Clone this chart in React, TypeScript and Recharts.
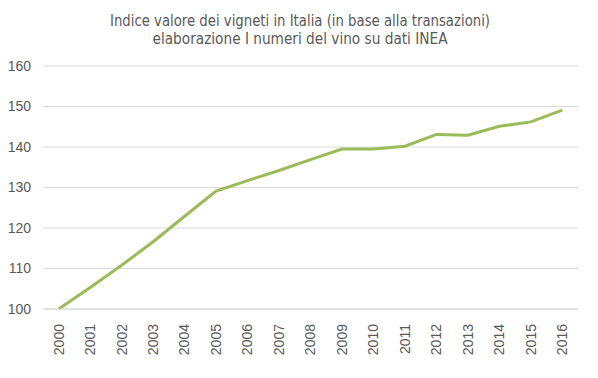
import { LineChart, Line, XAxis, YAxis, CartesianGrid } from "recharts";

const years = [
  "2000", "2001", "2002", "2003", "2004", "2005", "2006", "2007", "2008",
  "2009", "2010", "2011", "2012", "2013", "2014", "2015", "2016",
];
const indexValues = [
  100, 105.3, 110.8, 116.6, 122.9, 129.1, 131.7, 134.2, 136.9, 139.5, 139.5,
  140.2, 143.1, 142.9, 145.1, 146.2, 149.1,
];
const yTicks = [100, 110, 120, 130, 140, 150, 160];
const titleLines = [
  "Indice valore dei vigneti in Italia (in base alla transazioni)",
  "elaborazione I numeri del vino su dati INEA",
];

const data = years.map((year, i) => ({ year, value: indexValues[i] }));

const textColor = "#595959";
const gridColor = "#d9d9d9";
const lineColor = "#9bbb59";
const labelFont = "'Liberation Sans', Arial, sans-serif";
const titleFont = "'Liberation Sans Narrow', 'DejaVu Sans Condensed', sans-serif";

function YearTick(props: any) {
  const { x, y, payload } = props;
  return (
    <text
      x={x}
      y={y}
      transform={`rotate(-90, ${x}, ${y})`}
      textAnchor="end"
      dy="0.35em"
      fill={textColor}
      fontSize={14}
      style={{ fontFamily: labelFont }}
    >
      {payload.value}
    </text>
  );
}

export default function App() {
  return (
    <div
      style={{
        position: "absolute",
        left: 0,
        top: 0,
        width: 598,
        height: 378,
        background: "#fff",
      }}
    >
      <svg
        width={598}
        height={60}
        style={{ position: "absolute", left: 0, top: 0 }}
      >
        <text
          x={300}
          y={26}
          textAnchor="middle"
          fontSize={16}
          fill={textColor}
          style={{ fontFamily: titleFont }}
          textLength={380}
          lengthAdjust="spacingAndGlyphs"
        >
          {titleLines[0]}
        </text>
        <text
          x={300}
          y={44}
          textAnchor="middle"
          fontSize={16}
          fill={textColor}
          style={{ fontFamily: titleFont }}
          textLength={295}
          lengthAdjust="spacingAndGlyphs"
        >
          {titleLines[1]}
        </text>
      </svg>
      <LineChart
        width={598}
        height={378}
        data={data}
        margin={{ top: 66, right: 20, bottom: 0, left: 0 }}
      >
        <CartesianGrid vertical={false} stroke={gridColor} strokeWidth={1} />
        <XAxis
          dataKey="year"
          height={69}
          padding={{ left: 15.7, right: 15.7 }}
          axisLine={{ stroke: gridColor }}
          tickLine={false}
          tick={<YearTick />}
          tickMargin={9}
          interval={0}
        />
        <YAxis
          width={43}
          domain={[100, 160]}
          ticks={yTicks}
          axisLine={false}
          tickLine={false}
          tickSize={0}
          tickMargin={12}
          tick={{
            fill: textColor,
            fontSize: 14,
            fontFamily: labelFont,
          }}
        />
        <Line
          type="linear"
          dataKey="value"
          stroke={lineColor}
          strokeWidth={3}
          dot={false}
          isAnimationActive={false}
        />
      </LineChart>
    </div>
  );
}
